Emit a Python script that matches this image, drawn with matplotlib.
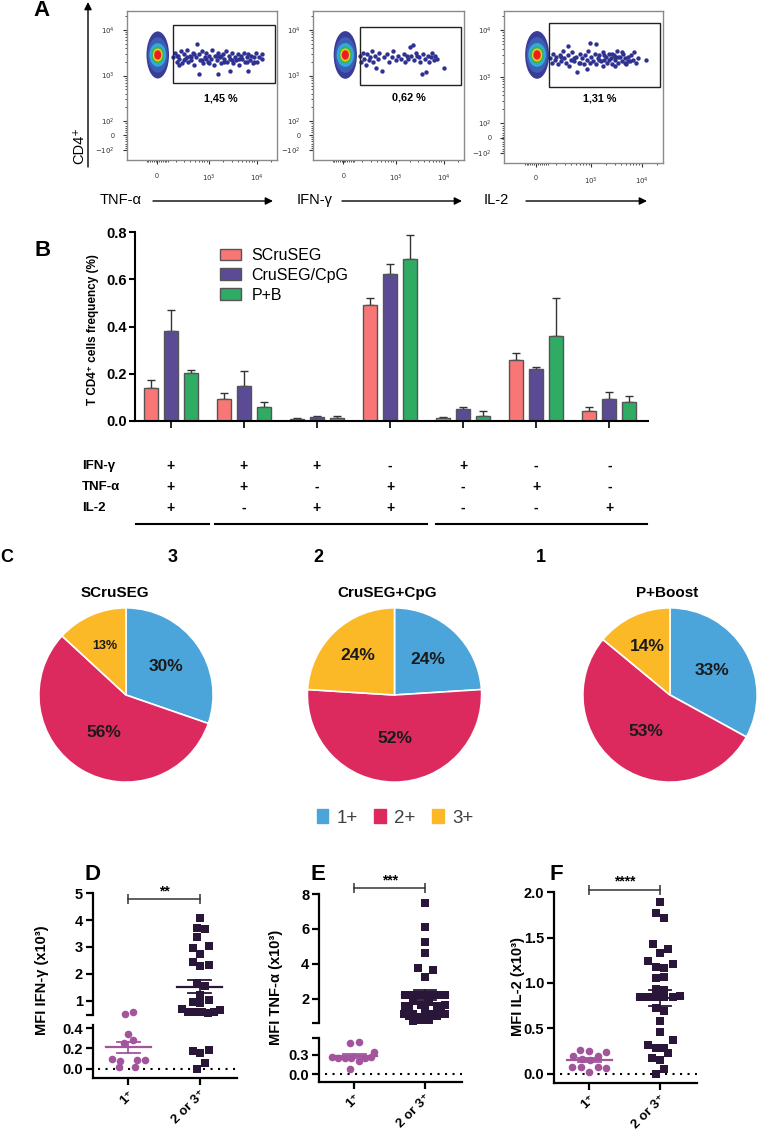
import matplotlib
matplotlib.use('Agg')
import matplotlib.pyplot as plt
from matplotlib.patches import Ellipse, Rectangle, Patch
import numpy as np

plt.rcParams['font.family'] = ['Liberation Sans', 'DejaVu Sans']

# ---------------- data ----------------
# A: gates and positive events, on the display scale of each plot (0..1)
flow_channel = ['TNF-α', 'IFN-γ', 'IL-2']
flow_pct = ['1,45 %', '0,62 %', '1,31 %']
gate_x = [(0.307, 0.985), (0.309, 0.980), (0.283, 0.979)]
gate_y = [(0.515, 0.906), (0.505, 0.890), (0.502, 0.923)]
neg_center = [(0.205, 0.705), (0.214, 0.705), (0.208, 0.711)]
neg_spread = [(0.075, 0.158), (0.077, 0.160), (0.075, 0.157)]

tnf_events = [(0.31, 0.69), (0.32, 0.72), (0.33, 0.66), (0.34, 0.70), (0.35, 0.68), (0.36, 0.73), (0.37, 0.65),
              (0.38, 0.71), (0.39, 0.68), (0.40, 0.74), (0.41, 0.66), (0.42, 0.70), (0.43, 0.67), (0.44, 0.72),
              (0.45, 0.64), (0.46, 0.69), (0.47, 0.78), (0.48, 0.58), (0.48, 0.71), (0.49, 0.67), (0.50, 0.73),
              (0.51, 0.65), (0.52, 0.69), (0.53, 0.72), (0.54, 0.66), (0.55, 0.70), (0.56, 0.68), (0.57, 0.74),
              (0.58, 0.64), (0.59, 0.70), (0.60, 0.67), (0.61, 0.58), (0.61, 0.72), (0.62, 0.69), (0.63, 0.65),
              (0.64, 0.71), (0.65, 0.68), (0.66, 0.73), (0.67, 0.66), (0.68, 0.70), (0.69, 0.60), (0.69, 0.68),
              (0.70, 0.72), (0.71, 0.65), (0.72, 0.69), (0.73, 0.67), (0.74, 0.71), (0.75, 0.64), (0.76, 0.70),
              (0.77, 0.68), (0.78, 0.72), (0.79, 0.66), (0.80, 0.69), (0.81, 0.60), (0.81, 0.71), (0.82, 0.67),
              (0.83, 0.70), (0.84, 0.65), (0.85, 0.69), (0.86, 0.72), (0.87, 0.66), (0.88, 0.69), (0.90, 0.68),
              (0.90, 0.71), (0.35, 0.64), (0.40, 0.69), (0.45, 0.71), (0.50, 0.67), (0.55, 0.65), (0.60, 0.70),
              (0.65, 0.66), (0.70, 0.67), (0.75, 0.68), (0.80, 0.66), (0.85, 0.66), (0.33, 0.70), (0.38, 0.67),
              (0.43, 0.69), (0.53, 0.68), (0.63, 0.70)]
ifn_events = [(0.31, 0.70), (0.32, 0.66), (0.33, 0.72), (0.34, 0.68), (0.35, 0.64), (0.36, 0.71), (0.37, 0.67),
              (0.38, 0.69), (0.39, 0.73), (0.40, 0.66), (0.41, 0.70), (0.42, 0.62), (0.43, 0.68), (0.44, 0.72),
              (0.46, 0.60), (0.47, 0.69), (0.49, 0.71), (0.50, 0.66), (0.52, 0.69), (0.53, 0.73), (0.55, 0.67),
              (0.56, 0.70), (0.58, 0.68), (0.60, 0.71), (0.61, 0.66), (0.63, 0.68), (0.64, 0.76), (0.66, 0.77),
              (0.65, 0.70), (0.67, 0.67), (0.68, 0.72), (0.70, 0.69), (0.71, 0.66), (0.72, 0.58), (0.73, 0.71),
              (0.74, 0.68), (0.75, 0.59), (0.76, 0.70), (0.77, 0.66), (0.78, 0.69), (0.79, 0.72), (0.80, 0.67),
              (0.81, 0.70), (0.82, 0.68), (0.87, 0.62), (0.62, 0.70), (0.69, 0.70)]
il2_events = [(0.29, 0.69), (0.30, 0.66), (0.31, 0.72), (0.32, 0.68), (0.33, 0.70), (0.34, 0.65), (0.35, 0.71),
              (0.36, 0.67), (0.37, 0.74), (0.38, 0.69), (0.39, 0.66), (0.40, 0.71), (0.41, 0.64), (0.42, 0.68),
              (0.43, 0.73), (0.44, 0.67), (0.45, 0.70), (0.46, 0.60), (0.47, 0.66), (0.48, 0.72), (0.49, 0.69),
              (0.50, 0.65), (0.51, 0.71), (0.52, 0.68), (0.53, 0.74), (0.54, 0.79), (0.54, 0.66), (0.55, 0.70),
              (0.56, 0.67), (0.57, 0.72), (0.58, 0.65), (0.59, 0.69), (0.60, 0.71), (0.61, 0.67), (0.62, 0.73),
              (0.63, 0.68), (0.64, 0.70), (0.65, 0.66), (0.66, 0.72), (0.67, 0.69), (0.68, 0.65), (0.69, 0.71),
              (0.70, 0.68), (0.71, 0.74), (0.72, 0.66), (0.73, 0.70), (0.74, 0.67), (0.75, 0.72), (0.76, 0.69),
              (0.77, 0.65), (0.78, 0.70), (0.79, 0.67), (0.80, 0.71), (0.81, 0.68), (0.82, 0.73), (0.83, 0.66),
              (0.84, 0.69), (0.89, 0.68), (0.40, 0.77), (0.58, 0.78), (0.62, 0.64), (0.66, 0.68), (0.70, 0.64),
              (0.72, 0.70), (0.74, 0.73), (0.76, 0.66), (0.78, 0.67), (0.63, 0.71), (0.68, 0.72), (0.52, 0.62),
              (0.36, 0.70), (0.44, 0.69), (0.48, 0.66), (0.60, 0.68), (0.70, 0.70)]
flow_events = [tnf_events, ifn_events, il2_events]

# B: frequency of each cytokine combination (%)
scruseg = [0.141, 0.093, 0.008, 0.490, 0.011, 0.258, 0.041]
scruseg_err = [0.034, 0.024, 0.003, 0.029, 0.005, 0.029, 0.020]
cruseg_cpg = [0.382, 0.147, 0.015, 0.623, 0.050, 0.219, 0.094]
cruseg_cpg_err = [0.089, 0.065, 0.007, 0.040, 0.011, 0.008, 0.030]
p_b = [0.202, 0.059, 0.013, 0.684, 0.023, 0.361, 0.080]
p_b_err = [0.012, 0.020, 0.007, 0.102, 0.021, 0.160, 0.027]
bar_labels = ['SCruSEG', 'CruSEG/CpG', 'P+B']
row_names = ['IFN-γ', 'TNF-α', 'IL-2']
ifn_row = ['+', '+', '+', '-', '+', '-', '-']
tnf_row = ['+', '+', '-', '+', '-', '+', '-']
il2_row = ['+', '-', '+', '+', '-', '-', '+']

# C: functional profile (%)
pie_names = ['SCruSEG', 'CruSEG+CpG', 'P+Boost']
pie_rank = ['3', '2', '1']
one_pos = [30, 24, 33]
two_pos = [56, 52, 53]
three_pos = [13, 24, 14]
func_labels = ['1+', '2+', '3+']

# D-F: MFI (x10^3), single (1+) vs multi (2 or 3+) producers
d_one = [0.49, 0.565, 0.344, 0.279, 0.253, 0.095, 0.079, 0.090, 0.082, 0.018, 0.016]
d_one_jit = [-0.05, 0.06, 0.0, 0.07, -0.06, -0.23, -0.12, 0.12, 0.24, -0.13, 0.10]
d_multi = [4.07, 3.70, 3.67, 3.36, 2.95, 3.02, 2.73, 2.42, 2.30, 2.34, 1.65, 1.56, 1.21, 0.96,
           0.90, 1.01, 0.69, 0.57, 0.57, 0.57, 0.54, 0.57, 0.65, 0.177, 0.151, 0.184, 0.059, 0.0]
d_multi_jit = [0.01, -0.04, 0.07, -0.04, -0.10, 0.13, 0.01, -0.09, 0.01, 0.13, -0.04, 0.07, 0.01, -0.09,
               0.01, 0.13, -0.25, -0.16, -0.07, 0.03, 0.12, 0.20, 0.29, -0.09, 0.01, 0.13, 0.07, -0.04]
e_one = [0.48, 0.50, 0.335, 0.26, 0.244, 0.244, 0.244, 0.21, 0.244, 0.27, 0.086]
e_one_jit = [-0.06, 0.06, 0.28, -0.32, -0.23, -0.13, -0.04, 0.06, 0.15, 0.24, -0.06]
e_multi = [7.50, 6.13, 5.28, 4.61, 3.75, 3.66, 3.28, 2.22, 2.25, 2.20, 2.22, 2.20, 2.22, 1.88, 1.82,
           1.62, 1.66, 1.60, 1.65, 1.42, 1.38, 1.40, 1.15, 1.12, 1.18, 1.12, 1.15, 1.00, 0.98, 1.02,
           0.78, 0.82, 0.75]
e_multi_jit = [0.0, 0.0, 0.0, 0.0, -0.10, 0.11, 0.0, -0.28, -0.17, -0.06, 0.06, 0.17, 0.28, -0.17, 0.06,
               -0.28, -0.06, 0.17, 0.28, -0.23, 0.0, 0.23, -0.30, -0.17, 0.0, 0.11, 0.28, -0.23, -0.06, 0.17,
               -0.06, 0.06, -0.17]
f_one = [0.20, 0.257, 0.25, 0.195, 0.24, 0.165, 0.154, 0.074, 0.074, 0.074, 0.066, 0.018]
f_one_jit = [-0.23, -0.13, 0.0, 0.12, 0.24, -0.11, 0.01, -0.24, -0.12, 0.12, 0.24, 0.0]
f_multi = [1.89, 1.77, 1.72, 1.43, 1.38, 1.33, 1.24, 1.18, 1.17, 1.21, 1.05, 1.07, 0.93, 0.92, 0.85, 0.84,
           0.84, 0.85, 0.85, 0.86, 0.72, 0.69, 0.58, 0.46, 0.32, 0.37, 0.28, 0.28, 0.23, 0.17, 0.15, 0.055, 0.0]
f_multi_jit = [0.0, -0.06, 0.06, -0.10, 0.12, 0.0, -0.17, -0.06, 0.06, 0.18, -0.06, 0.06, -0.06, 0.06, -0.28,
               -0.17, -0.06, 0.06, 0.18, 0.29, -0.06, 0.06, 0.0, 0.0, -0.17, 0.18, -0.06, 0.06, 0.12, -0.11,
               0.0, 0.06, -0.06]
mfi_cats = ['1⁺', '2 or 3⁺']

# ---------------- figure ----------------
W, H = 761, 1133
fig = plt.figure(figsize=(W / 100, H / 100), dpi=100)


def box(x0, y0, x1, y1):
    # axes from a pixel box (top-left origin)
    return fig.add_axes([x0 / W, 1 - y1 / H, (x1 - x0) / W, (y1 - y0) / H])


# ---- A: dot plots
flow_boxes = [(127, 11, 277, 160), (313, 11, 464, 160), (504, 11, 663, 163)]
pct_xy = [(0.627, 0.416), (0.634, 0.418), (0.602, 0.426)]
levels = [(1.0, 1.0, '#3a3d98'), (0.88, 0.75, '#3c5fb5'), (0.74, 0.50, '#33a8dc'),
          (0.56, 0.36, '#3db54a'), (0.42, 0.27, '#f2e21c'), (0.35, 0.23, '#f7941d'), (0.30, 0.19, '#ec1c24')]
dec = 0.316
x_minor = [0.547 + dec * np.log10(k) for k in range(2, 10)] + [0.231 + dec * np.log10(k) for k in range(2, 10)]
x_minor += [0.866 + dec * np.log10(2)] + list(np.arange(0.13, 0.28, 0.012))
y_minor = [0.261 + 0.306 * np.log10(k) for k in range(2, 10)] + [0.567 + 0.306 * np.log10(k) for k in range(2, 10)]
y_minor += [0.875 + 0.306 * np.log10(2)] + list(np.arange(0.08, 0.25, 0.015))

for i in range(3):
    ax = box(*flow_boxes[i])
    ax.set_xlim(0, 1)
    ax.set_ylim(0, 1)
    cx, cy = neg_center[i]
    rx, ry = neg_spread[i]
    for fx, fy, c in levels:
        ax.add_patch(Ellipse((cx, cy), 2 * rx * fx, 2 * ry * fy, facecolor=c, edgecolor='none'))
    ex, ey = zip(*flow_events[i])
    ax.scatter(ex, ey, s=10, c='#2e3192', lw=0)
    gx, gy = gate_x[i], gate_y[i]
    ax.add_patch(Rectangle((gx[0], gy[0]), gx[1] - gx[0], gy[1] - gy[0], fill=False, ec='#222222', lw=1))
    ax.text(pct_xy[i][0], pct_xy[i][1], flow_pct[i], ha='center', va='center', fontsize=7.8, fontweight='bold')
    for s in ax.spines.values():
        s.set_color('#8a8a8a')
        s.set_linewidth(1)
    ax.set_xticks([0.20, 0.547, 0.866])
    ax.set_xticklabels(['0', '$10^3$', '$10^4$'])
    ax.set_yticks([0.067, 0.167, 0.261, 0.567, 0.875])
    ax.set_yticklabels(['$-10^2$', '0', '$10^2$', '$10^3$', '$10^4$'])
    ax.set_xticks(x_minor, minor=True)
    ax.set_yticks(y_minor, minor=True)
    ax.tick_params(which='major', length=3, width=0.8, labelsize=5, pad=6, colors='#333333')
    ax.tick_params(which='minor', length=1.6, width=0.6, colors='#333333')

# ---- B: bars
ax_b = box(135, 232, 648, 421)
xg = np.arange(7)
bar_w, bar_off = 0.19, 0.275
bar_cols = ['#f87676', '#5b4b95', '#2fab63']
series = [(scruseg, scruseg_err), (cruseg_cpg, cruseg_cpg_err), (p_b, p_b_err)]
for k, (vals, errs) in enumerate(series):
    xs = xg + (k - 1) * bar_off
    ax_b.bar(xs, vals, bar_w, color=bar_cols[k], edgecolor='#555555', lw=1, label=bar_labels[k], zorder=2)
    ax_b.errorbar(xs, vals, yerr=[np.zeros(7), errs], fmt='none', ecolor='#333333', elinewidth=1,
                  capsize=3, capthick=1, zorder=1)
ax_b.set_xlim(-0.49, 6.53)
ax_b.set_ylim(0, 0.8)
ax_b.set_yticks([0, 0.2, 0.4, 0.6, 0.8])
ax_b.set_yticklabels(['0.0', '0.2', '0.4', '0.6', '0.8'], fontweight='bold', fontsize=10.5)
ax_b.set_xticks(xg)
ax_b.set_xticklabels([])
for s in ['top', 'right']:
    ax_b.spines[s].set_visible(False)
ax_b.spines['left'].set_linewidth(1.5)
ax_b.spines['bottom'].set_linewidth(1.5)
ax_b.tick_params(axis='y', length=4, width=1.5, pad=2)
ax_b.tick_params(axis='x', length=5, width=1.2)
ax_b.legend(loc='upper left', bbox_to_anchor=(0.165, 0.915), frameon=False, fontsize=11.5,
            handlelength=1.35, handleheight=0.75, handletextpad=0.65, labelspacing=0.3,
            borderpad=0, borderaxespad=0)

# combination table under the bars
ax_t = box(135, 450, 648, 535)
ax_t.set_xlim(-0.49, 6.53)
ax_t.set_ylim(535, 450)
ax_t.axis('off')
for r, (name, signs) in enumerate(zip(row_names, [ifn_row, tnf_row, il2_row])):
    yy = 466 + r * 21
    ax_t.text(-1.22, yy, name, ha='left', va='center', fontsize=9.5, fontweight='bold', clip_on=False)
    for j, sg in enumerate(signs):
        ax_t.text(xg[j], yy, sg, ha='center', va='center', fontsize=10, fontweight='bold')
for a, b in [(-0.47, 0.52), (0.61, 3.51), (3.63, 6.52)]:
    ax_t.plot([a, b], [524, 524], color='k', lw=1.5, clip_on=False)

# ---- C: pies
pie_cols = ['#4ba5da', '#dc2a5f', '#fbb927']
pie_cx = [126, 394.5, 670]
pct_dist = [0.56, 0.5, 0.62]
for i in range(3):
    ax = box(pie_cx[i] - 88, 607, pie_cx[i] + 88, 783)
    vals = [one_pos[i], two_pos[i], three_pos[i]]
    wedges, _ = ax.pie(vals, colors=pie_cols, startangle=90, counterclock=False,
                       wedgeprops=dict(edgecolor='white', linewidth=1.2))
    for j, wd in enumerate(wedges):
        ang = np.deg2rad((wd.theta1 + wd.theta2) / 2)
        fs = 9 if vals[j] < 20 and i == 0 else 12.5
        ax.text(pct_dist[j] * np.cos(ang), pct_dist[j] * np.sin(ang), f'{vals[j]}%',
                ha='center', va='center', fontsize=fs, fontweight='bold', color='#1a1a1a')
    ax.set_xlim(-1.01, 1.01)
    ax.set_ylim(-1.01, 1.01)
    ax.set_aspect('equal')

leg_c = fig.legend(handles=[Patch(color=c, label=l) for c, l in zip(pie_cols, func_labels)],
                   loc='center', bbox_to_anchor=(395 / W, 1 - 818 / H), ncol=3, frameon=False,
                   fontsize=13.5, handlelength=0.6, handleheight=0.75, handletextpad=0.45, columnspacing=0.9)
for t in leg_c.get_texts():
    t.set_color('#404040')

# ---- D-F: MFI scatter with broken axes
col_one, col_multi = '#a2559c', '#2a1638'


def mfi_panel(x0, x1, parts, one, one_jit, multi, multi_jit, sig_y, stars):
    axes = []
    for k, (y0, y1, lim, ticks, labels) in enumerate(parts):
        ax = box(x0, y0, x1, y1)
        ax.set_xlim(-0.5, 1.52)
        ax.set_ylim(*lim)
        ax.patch.set_visible(False)
        for s in ['top', 'right']:
            ax.spines[s].set_visible(False)
        ax.spines['left'].set_linewidth(1.6)
        ax.set_yticks(ticks)
        ax.set_yticklabels(labels, fontweight='bold', fontsize=10.5)
        ax.tick_params(axis='y', length=5, width=1.6, pad=2)
        if k < len(parts) - 1:
            ax.spines['bottom'].set_visible(False)
            ax.set_xticks([])
        else:
            ax.spines['bottom'].set_linewidth(1.6)
            ax.set_xticks([0, 1])
            ax.set_xticklabels(mfi_cats, rotation=45, ha='right', rotation_mode='anchor',
                               fontweight='bold', fontsize=9.5)
            ax.tick_params(axis='x', length=5, width=1.6, pad=2)
            ax.axhline(0, xmin=0.04, color='k', lw=1.5, ls=(0, (1, 2.6)))
        axes.append(ax)

    def pick(v):
        return axes[0] if (len(axes) == 1 or v >= parts[0][2][0]) else axes[1]

    for cat, vals, jit, col, mk, ms in [(0, one, one_jit, col_one, 'o', 30), (1, multi, multi_jit, col_multi, 's', 26)]:
        for v, j in zip(vals, jit):
            pick(v).scatter(cat + j, v, s=ms, marker=mk, color=col, lw=0, clip_on=False, zorder=3)
        m = np.mean(vals)
        sem = np.std(vals, ddof=1) / np.sqrt(len(vals))
        ax = pick(m)
        ax.plot([cat - 0.32, cat + 0.32], [m, m], color=col, lw=1.6, zorder=4)
        ax.plot([cat - 0.16, cat + 0.16], [m + sem, m + sem], color=col, lw=1.3, zorder=4)
        ax.plot([cat - 0.16, cat + 0.16], [m - sem, m - sem], color=col, lw=1.3, zorder=4)
        ax.plot([cat, cat], [m - sem, m + sem], color=col, lw=1.3, zorder=4)
    top = axes[0]
    top.plot([0, 1], [sig_y, sig_y], color='#333333', lw=1.1, marker='|', ms=7, mew=1.1, clip_on=False)
    top.annotate(stars, (0.5, sig_y), xytext=(0, 0.5), textcoords='offset points', ha='center', va='bottom',
                 fontsize=10, fontweight='bold', annotation_clip=False)


mfi_panel(92.7, 236.7,
          [(893.3, 1015, (0.46, 5.0), [0.46, 1, 2, 3, 4, 5], ['', '1', '2', '3', '4', '5']),
           (1025, 1078.3, (-0.094, 0.43), [0, 0.2, 0.4], ['0.0', '0.2', '0.4'])],
          d_one, d_one_jit, d_multi, d_multi_jit, 4.79, '**')
mfi_panel(319, 461.7,
          [(894, 1023.3, (0.61, 8.0), [0.61, 2, 4, 6, 8], ['', '2', '4', '6', '8']),
           (1037.7, 1081.7, (-0.11, 0.56), [0, 0.3, 0.56], ['0.0', '0.3', ''])],
          e_one, e_one_jit, e_multi, e_multi_jit, 8.36, '***')
mfi_panel(554, 696.7,
          [(892.3, 1082.7, (-0.1, 2.0), [0, 0.5, 1.0, 1.5, 2.0], ['0.0', '0.5', '1.0', '1.5', '2.0'])],
          f_one, f_one_jit, f_multi, f_multi_jit, 2.03, '****')

# ---- overlay for panel letters, arrows and free labels (pixel coordinates)
ov = fig.add_axes([0, 0, 1, 1])
ov.set_xlim(0, W)
ov.set_ylim(H, 0)
ov.axis('off')
arrow = dict(arrowstyle='-|>', color='k', lw=1, mutation_scale=11, shrinkA=0, shrinkB=0)
ov.text(42, 11, 'A', ha='center', va='center', fontsize=16, fontweight='bold')
ov.annotate('', xy=(88, 2), xytext=(88, 167), arrowprops=arrow)
ov.text(79, 145, 'CD4⁺', rotation=90, ha='center', va='center', fontsize=10.5)
for name, lx, a0, a1 in zip(flow_channel, [100, 297, 484], [153, 342, 526], [273, 462, 647]):
    ov.text(lx, 200, name, ha='left', va='center', fontsize=10.5)
    ov.annotate('', xy=(a1, 201), xytext=(a0, 201), arrowprops=arrow)

ov.text(43, 251, 'B', ha='center', va='center', fontsize=16, fontweight='bold')
ov.text(93, 330, 'T CD4⁺ cells frequency (%)', rotation=90, ha='center', va='center',
        fontsize=8.5, fontweight='bold')

ov.text(7, 558, 'C', ha='center', va='center', fontsize=13, fontweight='bold')
for i in range(3):
    ov.text([173, 318, 541][i], 557, pie_rank[i], ha='center', va='center', fontsize=13, fontweight='bold')
    ov.text([115, 387, 667][i], 593, pie_names[i], ha='center', va='center', fontsize=11, fontweight='bold')

for lab, lx, ly in [('D', 93, 875), ('E', 318, 875), ('F', 556, 874)]:
    ov.text(lx, ly, lab, ha='center', va='center', fontsize=16, fontweight='bold')
for lab, lx, ly in [('MFI IFN-γ (x10³)', 42, 980), ('MFI TNF-α (x10³)', 276, 987), ('MFI IL-2 (x10³)', 518, 987)]:
    ov.text(lx, ly, lab, rotation=90, ha='center', va='center', fontsize=10.5, fontweight='bold')

fig.savefig('out.png', dpi=100)
